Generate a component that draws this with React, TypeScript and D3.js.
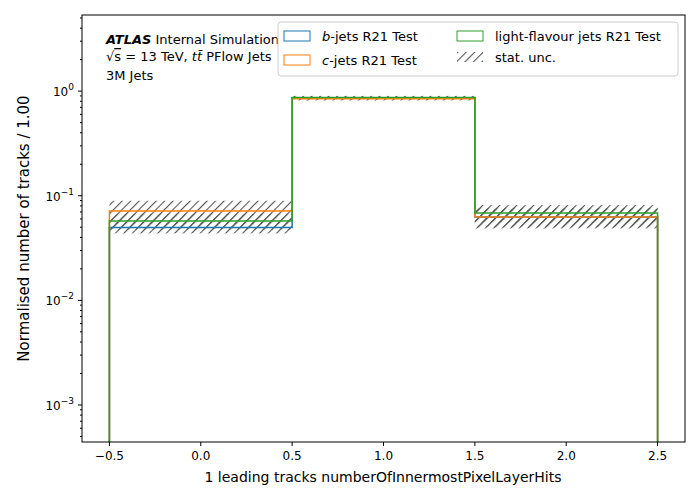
import React from "react";
import * as d3 from "d3";

const binEdges = [-0.5, 0.5, 1.5, 2.5];
const bValues = [0.0497, 0.862, 0.0625];
const cValues = [0.0716, 0.845, 0.0627];
const lValues = [0.0574, 0.87, 0.0684];
const bUnc = [0.006, 0.03, 0.012];
const cUnc = [0.018, 0.03, 0.014];
const lUnc = [0.010, 0.03, 0.013];
const xTicks = [-0.5, 0, 0.5, 1, 1.5, 2, 2.5];
const yTicks = [1e-3, 1e-2, 1e-1, 1];

const series = [
  { name: "b", values: bValues, unc: bUnc, color: "#1f77b4" },
  { name: "c", values: cValues, unc: cUnc, color: "#ff7f0e" },
  { name: "l", values: lValues, unc: lUnc, color: "#2ca02c" },
];

export default function App() {
  const L = 82, R = 685, T = 15, B = 442;
  const x = d3.scaleLinear().domain([-0.65, 2.65]).range([L, R]);
  const y = d3.scaleLog().domain([4.43e-4, 5.34]).range([B, T]);
  const font = "DejaVu Sans, sans-serif";
  const minor: number[] = [];
  for (let e = -4; e <= 0; e++) for (let k = 2; k <= 9; k++) {
    const v = k * Math.pow(10, e);
    if (v > 4.43e-4 && v < 5.34) minor.push(v);
  }
  const stepPath = (vals: number[]) => {
    let p = `M${x(binEdges[0])},${B}`;
    vals.forEach((v, i) => {
      p += `L${x(binEdges[i])},${y(v)}L${x(binEdges[i + 1])},${y(v)}`;
    });
    p += `L${x(binEdges[binEdges.length - 1])},${B}`;
    return p;
  };
  return (
    <svg width={700} height={500} style={{ position: "absolute", left: 0, top: 0 }} fontFamily={font}>
      <defs>
        <pattern id="hatch" width="6" height="6" patternUnits="userSpaceOnUse" patternTransform="rotate(45)">
          <line x1="0" y1="0" x2="0" y2="6" stroke="#555" strokeWidth="2.2" />
        </pattern>
        <clipPath id="clip"><rect x={L} y={T} width={R - L} height={B - T} /></clipPath>
      </defs>
      <rect width={700} height={500} fill="white" />
      <g clipPath="url(#clip)">
        {series.map((s) =>
          s.values.map((v, i) => (
            <rect key={s.name + i} x={x(binEdges[i])} width={x(binEdges[i + 1]) - x(binEdges[i])}
              y={y(v + s.unc[i])} height={y(v - s.unc[i]) - y(v + s.unc[i])} fill="url(#hatch)" />
          ))
        )}
        {series.map((s) => (
          <path key={s.name} d={stepPath(s.values)} fill="none" stroke={s.color} strokeWidth={1.5} />
        ))}
      </g>
      <rect x={L} y={T} width={R - L} height={B - T} fill="none" stroke="black" strokeWidth={1} />
      {xTicks.map((t) => (
        <g key={t} transform={`translate(${x(t)},${B})`}>
          <line y2={4} stroke="black" />
          <text y={18} textAnchor="middle" fontSize={12}>{t < 0 ? "−" + Math.abs(t).toFixed(1) : t.toFixed(1)}</text>
        </g>
      ))}
      {yTicks.map((t) => {
        const e = Math.round(Math.log10(t));
        return (
          <g key={t} transform={`translate(${L},${y(t)})`}>
            <line x2={-4} stroke="black" />
            <text x={-8} y={5} textAnchor="end" fontSize={12}>10<tspan dy={-6} fontSize={9}>{e < 0 ? "−" + Math.abs(e) : e}</tspan></text>
          </g>
        );
      })}
      {minor.map((t) => <line key={t} x1={L} x2={L - 2} y1={y(t)} y2={y(t)} stroke="black" />)}
      <text x={383} y={482} textAnchor="middle" fontSize={14}>1 leading tracks numberOfInnermostPixelLayerHits</text>
      <text transform={`translate(29,${(T + B) / 2}) rotate(-90)`} textAnchor="middle" fontSize={15}>Normalised number of tracks / 1.00</text>
      <text x={106} y={44} fontSize={13}><tspan fontWeight="bold" fontStyle="italic">ATLAS</tspan> Internal Simulation</text>
      <text x={106} y={61} fontSize={13}>√<tspan textDecoration="overline">s</tspan> = 13 TeV, <tspan fontStyle="italic">t</tspan><tspan fontStyle="italic">t̄</tspan> PFlow Jets</text>
      <text x={106} y={80} fontSize={13}>3M Jets</text>
      <rect x={278} y={22} width={400} height={54} rx={3} fill="white" fillOpacity={0.85} stroke="#ccc" />
      {[
        { label: "-jets R21 Test", it: "b", c: "#1f77b4", lx: 284, ly: 31 },
        { label: "-jets R21 Test", it: "c", c: "#ff7f0e", lx: 284, ly: 55 },
        { label: "light-flavour jets R21 Test", it: "", c: "#2ca02c", lx: 457, ly: 31 },
      ].map((e) => (
        <g key={e.label + e.it}>
          <rect x={e.lx} y={e.ly} width={26} height={10} fill="none" stroke={e.c} strokeWidth={1} />
          <text x={e.lx + 38} y={e.ly + 10} fontSize={13}><tspan fontStyle="italic">{e.it}</tspan>{e.label}</text>
        </g>
      ))}
      <rect x={457} y={52} width={26} height={10} fill="url(#hatch)" />
      <text x={495} y={62} fontSize={13}>stat. unc.</text>
    </svg>
  );
}
